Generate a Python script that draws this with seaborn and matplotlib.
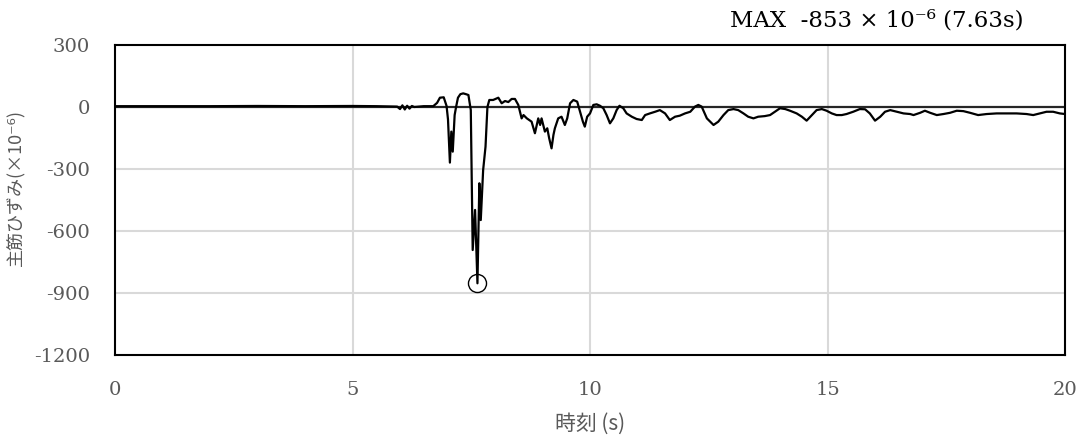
import pandas as pd
import seaborn as sns
import matplotlib.pyplot as plt

# time (s) and strain (x10^-6)
time_s = [0.0, 1.0, 2.0, 3.0, 4.0, 5.0, 5.5, 5.94, 6.0, 6.05, 6.1, 6.15, 6.2, 6.25, 6.3,
          6.5, 6.7, 6.78, 6.84, 6.92, 6.98, 7.01, 7.05, 7.08, 7.11, 7.15, 7.18, 7.22,
          7.27, 7.33, 7.39, 7.44, 7.49, 7.53, 7.58, 7.63, 7.67, 7.70, 7.75, 7.80, 7.84,
          7.88, 7.96, 8.07, 8.14, 8.21, 8.28, 8.35, 8.42, 8.49, 8.56, 8.60, 8.67, 8.77,
          8.84, 8.91, 8.95, 8.98, 9.05, 9.10, 9.14, 9.19, 9.23, 9.26, 9.33, 9.40, 9.47,
          9.52, 9.58, 9.65, 9.73, 9.79, 9.85, 9.89, 9.94, 10.0, 10.07, 10.14, 10.21,
          10.28, 10.35, 10.42, 10.49, 10.56, 10.62, 10.70, 10.77, 10.88, 10.98, 11.09,
          11.16, 11.26, 11.37, 11.47, 11.58, 11.68, 11.79, 11.89, 12.00, 12.11, 12.21,
          12.28, 12.35, 12.46, 12.60, 12.70, 12.81, 12.91, 13.02, 13.12, 13.23, 13.33,
          13.44, 13.54, 13.68, 13.79, 13.89, 14.00, 14.11, 14.21, 14.35, 14.46, 14.56,
          14.67, 14.77, 14.88, 14.98, 15.09, 15.19, 15.30, 15.40, 15.54, 15.68, 15.79,
          15.89, 16.00, 16.11, 16.21, 16.32, 16.46, 16.60, 16.74, 16.81, 16.95, 17.05,
          17.16, 17.30, 17.44, 17.58, 17.72, 17.86, 18.00, 18.17, 18.35, 18.56, 18.77,
          18.98, 19.19, 19.33, 19.47, 19.61, 19.75, 19.89, 20.0]
strain = [4, 4, 4, 5, 4, 5, 4, 2, -10, 8, -12, 6, -8, 5, 0,
          4, 4, 20, 45, 47, 5, -60, -269, -119, -216, -39, 0, 45,
          62, 66, 62, 58, -15, -692, -498, -853, -369, -547, -305, -192, 0,
          34, 34, 45, 18, 29, 24, 39, 39, 10, -55, -39, -55, -71,
          -127, -55, -87, -55, -119, -103, -151, -200, -135, -103, -55, -47, -87,
          -55, 18, 34, 26, -23, -71, -95, -47, -31, 10, 13, 6,
          -6, -39, -79, -55, -15, 6, -6, -31, -47, -58, -63,
          -39, -31, -23, -15, -31, -63, -47, -42, -31, -23, 2,
          10, 2, -55, -87, -71, -39, -15, -10, -15, -31, -47,
          -55, -47, -44, -39, -23, -6, -10, -18, -31, -47, -66,
          -39, -15, -10, -18, -31, -39, -39, -34, -23, -10, -11,
          -31, -66, -47, -23, -15, -23, -31, -34, -39, -28, -18,
          -28, -39, -34, -28, -18, -20, -28, -39, -34, -31, -31,
          -31, -34, -39, -31, -23, -23, -31, -34]

peak_t = 7.63
peak_v = -853
title_text = "MAX  -853 × 10⁻⁶ (7.63s)"

df = pd.DataFrame({"t": time_s, "v": strain})

sns.set_style("white")
plt.rcParams["font.family"] = ["DejaVu Serif", "Noto Sans CJK JP"]
plt.rcParams["axes.unicode_minus"] = False

fig = plt.figure(figsize=(10.86, 4.46), dpi=100)
ax = fig.add_axes([0.1059, 0.2040, 0.8748, 0.6951])

for gx in [5, 10, 15]:
    ax.axvline(gx, color="#d9d9d9", lw=1.5, zorder=0)
for gy in [-300, -600, -900]:
    ax.axhline(gy, color="#d9d9d9", lw=1.5, zorder=0)
ax.axhline(0, color="#262626", lw=1.6, zorder=1)

sns.lineplot(data=df, x="t", y="v", color="black", lw=1.6, ax=ax, zorder=3)
ax.plot([peak_t], [peak_v], marker="o", ms=13, mfc="none", mec="black", mew=1.0, zorder=4)

ax.set_xlim(0, 20)
ax.set_ylim(-1200, 300)
ax.set_xticks([0, 5, 10, 15, 20])
ax.set_yticks([300, 0, -300, -600, -900, -1200])
ax.tick_params(axis="both", length=0, labelsize=14, labelcolor="#595959")
ax.tick_params(axis="y", pad=18)
ax.tick_params(axis="x", pad=19)
for sp in ax.spines.values():
    sp.set_color("black")
    sp.set_linewidth(1.5)

ax.set_xlabel("時刻 (s)", fontsize=15, color="#595959",
              family=["Noto Sans CJK JP", "DejaVu Sans"])
ax.set_ylabel("主筋ひずみ(×10⁻⁶)", fontsize=13, color="#595959",
              family=["Noto Sans CJK JP", "DejaVu Sans"])
ax.xaxis.set_label_coords(0.5, -0.185)
ax.yaxis.set_label_coords(-0.0947, 0.54)

ax.text(0.956, 1.045, title_text, transform=ax.transAxes, ha="right", va="bottom",
        fontsize=16.5, color="black")

fig.savefig("out.png", dpi=100)
